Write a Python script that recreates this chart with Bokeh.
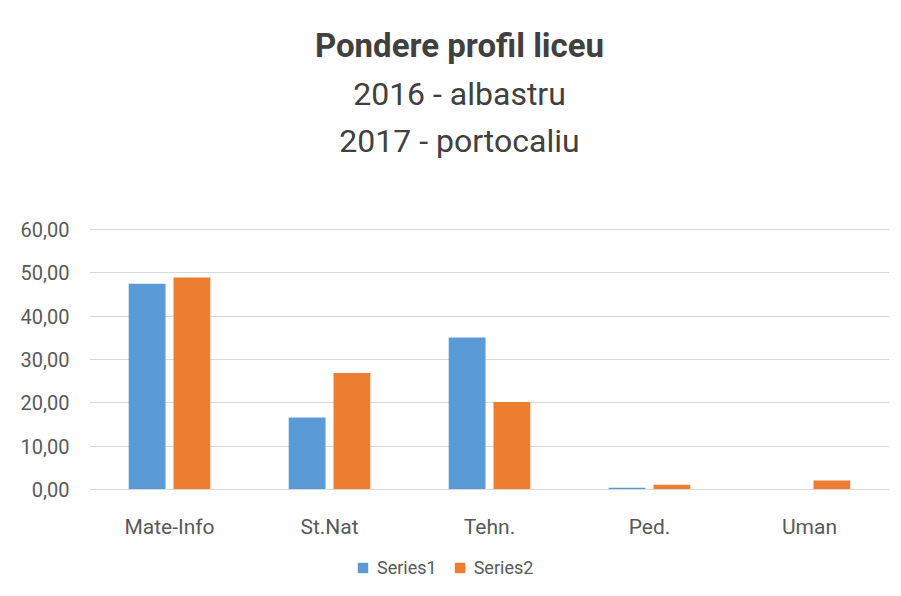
from bokeh.plotting import figure
from bokeh.models import (ColumnDataSource, FactorRange, Range1d, Legend, LegendItem,
                          Label, FixedTicker)
from bokeh.transform import dodge
from bokeh.embed import file_html
from bokeh.resources import INLINE

categories = ["Mate-Info", "St.Nat", "Tehn.", "Ped.", "Uman"]
series1 = [47.5, 16.6, 35.1, 0.4, 0.0]   # 2016 - albastru
series2 = [48.9, 26.9, 20.2, 1.1, 2.1]   # 2017 - portocaliu
y_ticks = [0, 10, 20, 30, 40, 50, 60]
y_tick_labels = ["0,00", "10,00", "20,00", "30,00", "40,00", "50,00", "60,00"]

title_lines = ["Pondere profil liceu", "2016 - albastru", "2017 - portocaliu"]
series_names = ["Series1", "Series2"]

BLUE = "#5B9BD5"
ORANGE = "#ED7D31"
GRID = "#D9D9D9"
TEXT = "#595959"
TITLE = "#404040"
FONT = "Roboto"

src = ColumnDataSource(dict(cat=categories, s1=series1, s2=series2))

# The frame spans the whole chart (titles above, axis labels and legend below the
# 0-60 value area); only the ticks 0..60 get gridlines.
p = figure(frame_width=800, frame_height=573, title=None,
           x_range=FactorRange(*categories, range_padding=0),
           y_range=Range1d(-22.85, 109.38), output_backend="svg", toolbar_location=None,
           min_border_left=89, min_border_right=2, min_border_top=15, min_border_bottom=0)
p.x_range.factor_padding = 0

r1 = p.vbar(x=dodge("cat", -0.14, range=p.x_range), top="s1", width=0.23, source=src,
            fill_color=BLUE, line_color=None)
r2 = p.vbar(x=dodge("cat", 0.14, range=p.x_range), top="s2", width=0.23, source=src,
            fill_color=ORANGE, line_color=None)

# three-line title, centred over the whole chart area
for txt, yy, style, fs in zip(title_lines, [102.46, 91.38, 80.31],
                              ["bold", "normal", "normal"], ["33px", "32px", "32px"]):
    p.add_layout(Label(x=2.3125, y=yy, text=txt,
                       text_align="center", text_baseline="middle", text_font=FONT,
                       text_font_size=fs, text_font_style=style, text_color=TITLE))

p.outline_line_color = None
p.xgrid.grid_line_color = None
p.ygrid.grid_line_color = GRID
p.ygrid.grid_line_width = 1

p.yaxis.ticker = FixedTicker(ticks=y_ticks)
p.yaxis.major_label_overrides = {t: l for t, l in zip(y_ticks, y_tick_labels)}
p.yaxis.axis_line_color = None
p.yaxis.major_tick_line_color = None
p.yaxis.minor_tick_line_color = None
p.yaxis.major_tick_out = 0
p.yaxis.major_tick_in = 0
p.yaxis.major_label_text_font = FONT
p.yaxis.major_label_text_font_size = "20px"
p.yaxis.major_label_text_color = TEXT
p.yaxis.major_label_standoff = 20

p.xaxis.fixed_location = 0
p.xaxis.axis_line_color = GRID
p.xaxis.major_tick_line_color = None
p.xaxis.minor_tick_line_color = None
p.xaxis.major_tick_out = 0
p.xaxis.major_tick_in = 0
p.xaxis.major_label_text_font = FONT
p.xaxis.major_label_text_font_size = "21px"
p.xaxis.major_label_text_color = TEXT
p.xaxis.major_label_standoff = 26

legend = Legend(items=[LegendItem(label=series_names[0], renderers=[r1]),
                       LegendItem(label=series_names[1], renderers=[r2])],
                orientation="horizontal", location=(267, 10),
                label_text_font=FONT, label_text_font_size="18px", label_text_color=TEXT,
                glyph_width=13, glyph_height=13, spacing=16, label_standoff=8,
                border_line_color=None, background_fill_alpha=0, padding=0, margin=0)
p.add_layout(legend, "center")

open("out.html", "w").write(file_html(p, INLINE))
